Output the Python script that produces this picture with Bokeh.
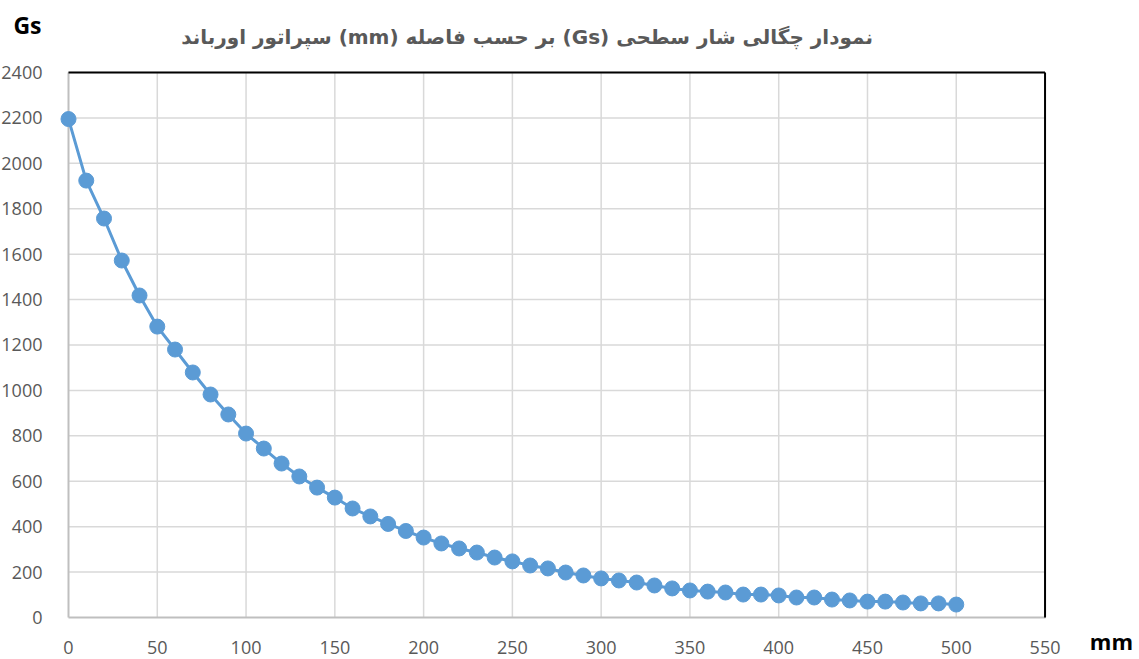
from bokeh.plotting import figure
from bokeh.models import Range1d, FixedTicker, Label
from bokeh.embed import file_html
from bokeh.resources import INLINE

# Data
distance_mm = list(range(0, 510, 10))
flux_gs = [2195, 1924, 1757, 1572, 1418, 1281, 1180, 1079, 982, 894,
           810, 744, 678, 621, 572, 528, 480, 445, 412, 381,
           352, 326, 304, 286, 264, 247, 229, 216, 198, 185,
           172, 163, 154, 141, 128, 119, 114, 110, 101, 101,
           97, 88, 88, 79, 75, 70, 70, 66, 62, 62, 57]

x_ticks = list(range(0, 551, 50))
y_ticks = list(range(0, 2401, 200))

title_text = "\u202bنمودار چگالی شار سطحی (Gs)  بر حسب فاصله (mm) سپراتور اورباند\u202c"
y_unit = "Gs"
x_unit = "mm"

BLUE = "#5b9bd5"
GRID = "#d9d9d9"
TICK_COLOR = "#595959"
AXIS_GRAY = "#bfbfbf"

x_min, x_max = x_ticks[0], x_ticks[-1]
y_min, y_max = y_ticks[0], y_ticks[-1]

# The frame fills the whole canvas; the plotting area 0..550 x 0..2400 sits
# where the reference draws it, and the axes are fixed at x=0 / y=0.
p = figure(width=1139, height=659,
           x_range=Range1d(-38.3, 603.2), y_range=Range1d(-185.0, 2717.1),
           min_border=0, min_border_left=0, min_border_right=0,
           min_border_top=0, min_border_bottom=0,
           output_backend="svg", toolbar_location=None)
p.outline_line_color = None
p.background_fill_color = "white"
p.border_fill_color = "white"
p.title.visible = False
p.grid.visible = False

p.xaxis.ticker = FixedTicker(ticks=x_ticks)
p.yaxis.ticker = FixedTicker(ticks=y_ticks)
p.xaxis.fixed_location = y_min
p.yaxis.fixed_location = x_min
p.xaxis.bounds = (x_min, x_max)
p.yaxis.bounds = (y_min, y_max)
for ax in (p.xaxis, p.yaxis):
    ax.level = "underlay"
    ax.major_tick_line_color = None
    ax.minor_tick_line_color = None
    ax.axis_line_color = AXIS_GRAY
    ax.axis_line_width = 2
    ax.major_label_text_color = TICK_COLOR
    ax.major_label_text_font = "Open Sans"
    ax.major_label_text_font_size = "18px"
p.yaxis.major_label_standoff = 20
p.xaxis.major_label_standoff = 18

# grid lines
p.segment(x0=x_ticks[1:], y0=[y_min] * (len(x_ticks) - 1),
          x1=x_ticks[1:], y1=[y_max] * (len(x_ticks) - 1),
          line_color=GRID, line_width=1.5, level="underlay")
p.segment(x0=[x_min] * (len(y_ticks) - 1), y0=y_ticks[1:],
          x1=[x_max] * (len(y_ticks) - 1), y1=y_ticks[1:],
          line_color=GRID, line_width=1.5, level="underlay")

# black top and right border of the plot area
p.segment(x0=[x_min, x_max], y0=[y_max, y_min], x1=[x_max, x_max], y1=[y_max, y_max],
          line_color="black", line_width=2)

p.line(distance_mm, flux_gs, line_color=BLUE, line_width=3)
p.scatter(distance_mm, flux_gs, size=15, fill_color=BLUE, line_color=BLUE)

p.add_layout(Label(x=260.2, y=2554.2, text=title_text, text_align="center",
                   text_baseline="middle", text_font="DejaVu Sans",
                   text_font_style="bold", text_font_size="20px",
                   text_color=TICK_COLOR))
p.add_layout(Label(x=-23.1, y=2611.4, text=y_unit, text_align="center",
                   text_baseline="middle", text_font="Open Sans",
                   text_font_style="bold", text_font_size="23px",
                   text_color="black"))
p.add_layout(Label(x=587.4, y=-105.7, text=x_unit, text_align="center",
                   text_baseline="middle", text_font="Open Sans",
                   text_font_style="bold", text_font_size="22px",
                   text_color="black"))

open("out.html", "w").write(file_html(p, INLINE))
